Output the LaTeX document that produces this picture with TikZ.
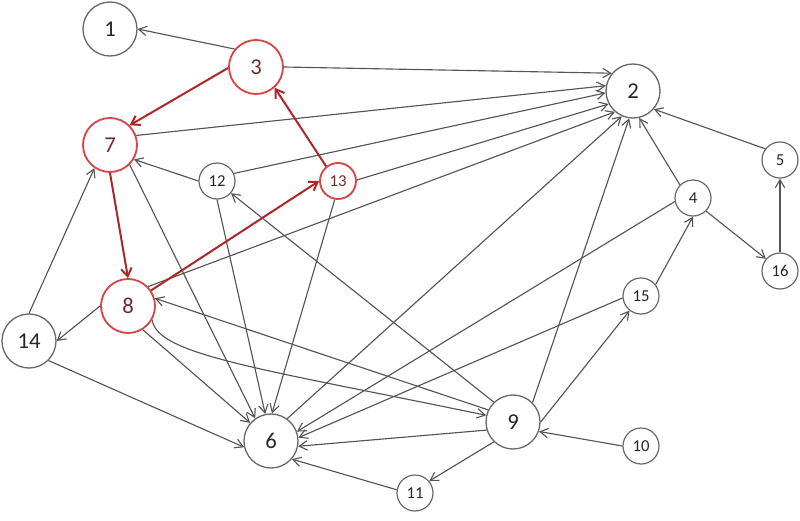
\documentclass[tikz,border=0pt]{standalone}
\usepackage{fontspec}
\setmainfont{Carlito}
\usetikzlibrary{arrows.meta}
\definecolor{edgegray}{RGB}{85,85,85}
\definecolor{circgray}{RGB}{105,105,105}
\definecolor{redcirc}{RGB}{214,72,72}
\definecolor{rededge}{RGB}{170,40,40}
\definecolor{redtext}{RGB}{110,45,45}
\begin{document}
\begin{tikzpicture}[x=0.75pt,y=-0.75pt,
 big/.style={circle,draw=circgray,line width=1pt,minimum size=40.5pt,inner sep=0pt,font=\fontsize{17}{17}\selectfont,text=black!85},
 small/.style={circle,draw=circgray,line width=0.9pt,minimum size=27pt,inner sep=0pt,font=\fontsize{12.5}{12.5}\selectfont,text=black!85},
 hot/.style={draw=redcirc,line width=1.4pt,text=redtext},
 e/.style={draw=edgegray,line width=0.85pt,-{Straight Barb[length=6pt,width=7pt]}},
 re/.style={draw=rededge,line width=1.5pt,-{Straight Barb[length=6pt,width=8pt]}}]
\path[use as bounding box] (0,0) rectangle (800,521);
\node[big] (n1) at (110,29) {1};
\node[big] (n2) at (633,91) {2};
\node[big,hot] (n3) at (256,67) {3};
\node[small] (n4) at (693,198) {4};
\node[small] (n5) at (780,160) {5};
\node[big] (n6) at (271,441) {6};
\node[big,hot] (n7) at (110,145) {7};
\node[big,hot] (n8) at (128,306) {8};
\node[big] (n9) at (513,422) {9};
\node[small] (n10) at (641,446) {10};
\node[small] (n11) at (415,493) {11};
\node[small] (n12) at (217,181) {12};
\node[small,hot] (n13) at (338,181) {13};
\node[big] (n14) at (29,341) {14};
\node[small] (n15) at (641,296) {15};
\node[small] (n16) at (780,271) {16};
% grey edges
\draw[e] (n3.140) -- (n1.0);
\draw[e] (n3.0) -- (n2.140);
\draw[e] (n7.20) -- (n2.169);
\draw[e] (n12.180) -- (n7.-31);
\draw[e] (n12.24) -- (n2.184);
\draw[e] (n13.3) -- (n2.208);
\draw[e] (n8.44) -- (n2.229);
\draw[e] (n7.-45) -- (n6.125);
\draw[e] (n12.270) -- (n6.102);
\draw[e] (n13.260) -- (n6.88);
\draw[e] (n8.-58) -- (n6.139);
\draw[e] (n14.90) -- (n7.236);
\draw[e] (n8.180) -- (n14.0);
\draw[e] (n14.-45) -- (n6.193);
\draw[e] (n8.-30) .. controls ([shift={(5,35)}]n8.-30) and ([shift={(-227,-47)}]n9.166) .. (n9.166);
\draw[e] (n9.154) -- (n8.16);
\draw[e] (n9.134) -- (n12.-41);
\draw[e] (n9.197) -- (n6.-11);
\draw[e] (n9.45) -- (n2.262);
\draw[e] (n6.54) -- (n2.246);
\draw[e] (n4.135) -- (n2.283);
\draw[e] (n5.143) -- (n2.319);
\draw[e] (n4.-45) -- (n16.139);
\draw[e] (n16.90) -- (n5.270);
\draw[e] (n15.38) -- (n4.270);
\draw[e] (n9.0) -- (n15.232);
\draw[e] (n10.180) -- (n9.-20);
\draw[e] (n9.226) -- (n11.40);
\draw[e] (n11.170) -- (n6.-41);
\draw[e] (n4.191) -- (n6.20);
\draw[e] (n15.186) -- (n6.7);
% red path
\draw[re] (n3.182) -- (n7.45);
\draw[re] (n13.129) -- (n3.-48);
\draw[re] (n8.34) -- (n13.180);
\draw[re] (n7.270) -- (n8.90);
\end{tikzpicture}
\end{document}
